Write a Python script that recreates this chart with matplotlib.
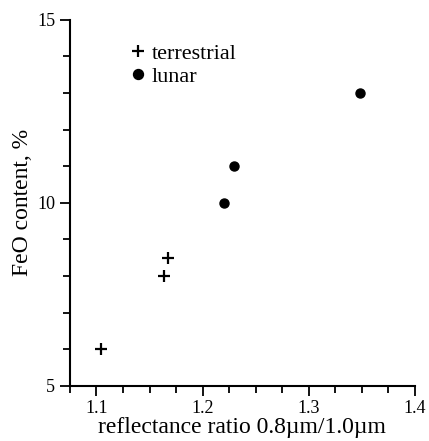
import matplotlib.pyplot as plt
from matplotlib.ticker import MultipleLocator

plt.rcParams["font.family"] = ["Liberation Serif", "DejaVu Serif"]

# data
terr_x = [1.104, 1.164, 1.167]
terr_y = [6.0, 8.0, 8.5]
lunar_x = [1.22, 1.23, 1.348]
lunar_y = [10.0, 11.0, 13.0]

fig = plt.figure(figsize=(4.29, 4.41), dpi=100)
ax = fig.add_axes([0.163, 0.125, 0.804, 0.830])

ax.plot(terr_x, terr_y, linestyle="none", marker="+", color="black",
        markersize=8, markeredgewidth=1.6, label="terrestrial")
ax.plot(lunar_x, lunar_y, linestyle="none", marker="o", color="black",
        markersize=6.5, label="lunar")

ax.set_xlim(1.075, 1.4)
ax.set_ylim(5, 15)
ax.xaxis.set_major_locator(MultipleLocator(0.1))
ax.xaxis.set_minor_locator(MultipleLocator(0.025))
ax.yaxis.set_major_locator(MultipleLocator(5))
ax.yaxis.set_minor_locator(MultipleLocator(1))

ax.spines["top"].set_visible(False)
ax.spines["right"].set_visible(False)
ax.spines["left"].set_linewidth(1.5)
ax.spines["bottom"].set_linewidth(1.5)
ax.tick_params(which="major", direction="out", length=7, width=1.3, labelsize=13)
ax.tick_params(which="minor", direction="out", length=5, width=1.3)

ax.set_xlabel("reflectance ratio 0.8\u00b5m/1.0\u00b5m", fontsize=17, labelpad=0)
ax.set_ylabel("FeO content, %", fontsize=17, labelpad=3)

leg = ax.legend(loc="upper left", bbox_to_anchor=(0.148, 0.96), frameon=False,
                fontsize=16, handlelength=0.7, handletextpad=0.3,
                labelspacing=0.1, borderaxespad=0, markerscale=1.1)

fig.savefig("out.png", dpi=100)
